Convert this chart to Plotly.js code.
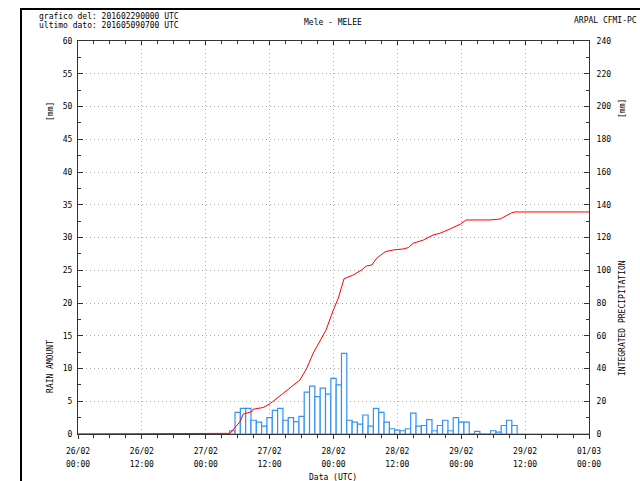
<!DOCTYPE html>
<html>
<head>
<meta charset="utf-8">
<script src="https://cdn.plot.ly/plotly-3.0.1.min.js"></script>
<style>
html,body{margin:0;padding:0;background:#fff;}
#wrap{position:relative;width:640px;height:481px;overflow:hidden;}
#chart{position:absolute;left:0;top:0;width:640px;height:481px;}
#frame{position:absolute;left:20px;top:8px;width:700px;height:600px;border-left:2px solid #000;border-top:2px solid #000;pointer-events:none;}
</style>
</head>
<body>
<div id="wrap"><div id="chart"></div><div id="frame"></div></div>
<script>
// Hourly rain amount [mm]
const rainTimes = [
 '2016-02-27 05:00','2016-02-27 06:00','2016-02-27 07:00','2016-02-27 08:00','2016-02-27 09:00',
 '2016-02-27 10:00','2016-02-27 11:00','2016-02-27 12:00','2016-02-27 13:00','2016-02-27 14:00',
 '2016-02-27 15:00','2016-02-27 16:00','2016-02-27 17:00','2016-02-27 18:00','2016-02-27 19:00',
 '2016-02-27 20:00','2016-02-27 21:00','2016-02-27 22:00','2016-02-27 23:00','2016-02-28 00:00',
 '2016-02-28 01:00','2016-02-28 02:00','2016-02-28 03:00','2016-02-28 04:00','2016-02-28 05:00',
 '2016-02-28 06:00','2016-02-28 07:00','2016-02-28 08:00','2016-02-28 09:00','2016-02-28 10:00',
 '2016-02-28 11:00','2016-02-28 12:00','2016-02-28 13:00','2016-02-28 14:00','2016-02-28 15:00',
 '2016-02-28 16:00','2016-02-28 17:00','2016-02-28 18:00','2016-02-28 19:00','2016-02-28 20:00',
 '2016-02-28 21:00','2016-02-28 22:00','2016-02-28 23:00','2016-02-29 00:00','2016-02-29 01:00',
 '2016-02-29 02:00','2016-02-29 03:00','2016-02-29 04:00','2016-02-29 05:00','2016-02-29 06:00',
 '2016-02-29 07:00','2016-02-29 08:00','2016-02-29 09:00','2016-02-29 10:00'
];
const rainValues = [
 0.5,3.3,3.9,3.9,2.1,
 1.8,1.2,2.5,3.6,3.9,
 2.1,2.5,1.9,2.7,6.4,
 7.3,5.7,7.0,6.1,8.5,
 7.5,12.3,2.1,1.8,1.5,
 2.9,1.2,3.9,3.3,1.8,
 0.8,0.6,0.5,0.8,3.2,
 1.2,1.3,2.2,0.5,1.3,
 2.1,0.5,2.5,1.8,1.8,
 0,0.4,0,0,0.5,
 0.3,1.3,2.1,1.3
];
// Integrated precipitation [mm]
const cumTimes = [
 '2016-02-26 00:00','2016-02-27 04:12','2016-02-27 04:33','2016-02-27 06:26','2016-02-27 07:03',
 '2016-02-27 08:36','2016-02-27 08:54','2016-02-27 10:48','2016-02-27 12:04','2016-02-27 13:57',
 '2016-02-27 15:48','2016-02-27 17:42','2016-02-27 18:58','2016-02-27 20:12','2016-02-27 21:28',
 '2016-02-27 22:36','2016-02-27 23:58','2016-02-28 00:54','2016-02-28 01:58','2016-02-28 03:42',
 '2016-02-28 05:18','2016-02-28 06:12','2016-02-28 07:12','2016-02-28 08:06','2016-02-28 09:42',
 '2016-02-28 11:12','2016-02-28 13:06','2016-02-28 14:03','2016-02-28 15:00','2016-02-28 16:54',
 '2016-02-28 18:42','2016-02-28 20:00','2016-02-28 21:54','2016-02-28 22:30','2016-02-28 23:48',
 '2016-02-29 00:54','2016-02-29 05:24','2016-02-29 07:18','2016-02-29 09:30','2016-02-29 10:06',
 '2016-03-01 00:00'
];
const cumValues = [
 0,0,0.4,7.5,12.2,
 13.6,15.1,16.2,18.5,23.3,
 28.1,33.0,40.1,49.5,56.8,
 63.5,75.7,82.9,94.8,97.1,
 100.2,102.6,103.2,107.3,111.3,
 112.4,113.0,113.8,116.5,118.5,
 121.5,122.6,125.2,126.0,128.1,
 130.7,130.7,131.3,135.1,135.6,
 135.6
];
const xTickVals = ['2016-02-26 00:00','2016-02-26 12:00','2016-02-27 00:00','2016-02-27 12:00',
 '2016-02-28 00:00','2016-02-28 12:00','2016-02-29 00:00','2016-02-29 12:00','2016-03-01 00:00'];
const xTickDay = ['26/02','26/02','27/02','27/02','28/02','28/02','29/02','29/02','01/03'];
const xTickHour = ['00:00','12:00','00:00','12:00','00:00','12:00','00:00','12:00','00:00'];
const xRange = ['2016-02-26 00:00','2016-03-01 00:00'];

const FONT = 'DejaVu Sans Mono, monospace';
const tf = {family: FONT, size: 8, color: '#000'};
const AX = '#333';
const GRID = '#a8a8a8';
const GDASH = '1px,3px';

const traces = [
 {type:'bar', x: rainTimes, y: rainValues, width: 3600000,
  marker:{color:'#ffffff', line:{color:'#3392f2', width:1.2}},
  xaxis:'x', yaxis:'y', hoverinfo:'skip'},
 {type:'scatter', mode:'lines', x: cumTimes, y: cumValues,
  line:{color:'#ff0000', width:1}, xaxis:'x', yaxis:'y2', hoverinfo:'skip'},
 // empty traces so the helper axes (top ticks, hour labels) are drawn
 {type:'scatter', mode:'lines', x: [], y: [], xaxis:'x2', yaxis:'y', hoverinfo:'skip'},
 {type:'scatter', mode:'lines', x: [], y: [], xaxis:'x3', yaxis:'y', hoverinfo:'skip'}
];

function ann(text, x, y, opts) {
  return Object.assign({text, x, y, xref:'paper', yref:'paper', showarrow:false,
    font: tf, xanchor:'center', yanchor:'middle'}, opts || {});
}

const layout = {
  width: 640, height: 481,
  margin: {l:78, r:51, t:41, b:47, pad:0},
  paper_bgcolor:'#fff', plot_bgcolor:'#fff',
  showlegend:false, bargap:0,
  font: tf,
  xaxis: {type:'date', range: xRange, tickmode:'array', tickvals: xTickVals, ticktext: xTickDay,
    ticks:'outside', ticklen:4, tickcolor:AX, tickfont: tf, ticklabelstandoff: 5,
    showgrid:true, gridcolor:GRID, griddash:GDASH, gridwidth:1,
    showline:true, linecolor:AX, linewidth:1, mirror:true, zeroline:false,
    minor:{dtick:10800000, tick0:'2016-02-26 00:00', ticks:'outside', ticklen:3, tickcolor:AX, showgrid:false}},
  xaxis2: {type:'date', range: xRange, overlaying:'x', side:'top', anchor:'y', tickmode:'array', tickvals: xTickVals,
    showticklabels:false, ticks:'inside', ticklen:4, tickcolor:AX, showgrid:false, showline:false, zeroline:false,
    minor:{dtick:10800000, tick0:'2016-02-26 00:00', ticks:'inside', ticklen:3, tickcolor:AX, showgrid:false}},
  xaxis3: {type:'date', range: xRange, overlaying:'x', side:'bottom', anchor:'y', tickmode:'array',
    tickvals: xTickVals, ticktext: xTickHour, tickfont: tf,
    ticks:'outside', ticklen:22, tickcolor:'rgba(0,0,0,0)', ticklabelstandoff: 0,
    showgrid:false, showline:false, zeroline:false},
  yaxis: {range:[0,60], tick0:0, dtick:5, ticks:'inside', ticklen:5, tickcolor:AX, tickfont: tf, ticklabelstandoff: 3,
    showgrid:true, gridcolor:GRID, griddash:GDASH, gridwidth:1,
    showline:true, linecolor:AX, linewidth:1, zeroline:false,
    minor:{dtick:2.5, ticks:'inside', ticklen:3, tickcolor:AX, showgrid:false}},
  yaxis2: {range:[0,240], tick0:0, dtick:20, overlaying:'y', side:'right',
    ticks:'inside', ticklen:5, tickcolor:AX, tickfont: tf, ticklabelstandoff: 5,
    showgrid:false, showline:true, linecolor:AX, linewidth:1, zeroline:false,
    minor:{dtick:10, ticks:'inside', ticklen:3, tickcolor:AX, showgrid:false}},
  shapes: [
    {type:'line', xref:'paper', yref:'y', x0:0, x1:1, y0:0, y1:0, line:{color:'#3392f2', width:1}, layer:'below'}
  ],
  annotations: [
    ann('grafico del: 201602290000 UTC', (37-78)/511, (434-17)/393, {xanchor:'left'}),
    ann('ultimo dato: 201605090700 UTC', (37-78)/511, (434-25)/393, {xanchor:'left'}),
    ann('Mele - MELEE', (333-78)/511, (434-23)/393),
    ann('ARPAL CFMI-PC', (639-78)/511, (434-21)/393, {xanchor:'right'}),
    ann('Data (UTC)', (333-78)/511, (434-478)/393),
    ann('[mm]', (50-78)/511, (434-112)/393, {textangle:-90}),
    ann('RAIN AMOUNT', (50-78)/511, (434-367)/393, {textangle:-90}),
    ann('[mm]', (622-78)/511, (434-109)/393, {textangle:-90}),
    ann('INTEGRATED PRECIPITATION', (622-78)/511, (434-318)/393, {textangle:-90})
  ]
};

Plotly.newPlot('chart', traces, layout, {staticPlot:true, displayModeBar:false});
</script>
</body>
</html>
